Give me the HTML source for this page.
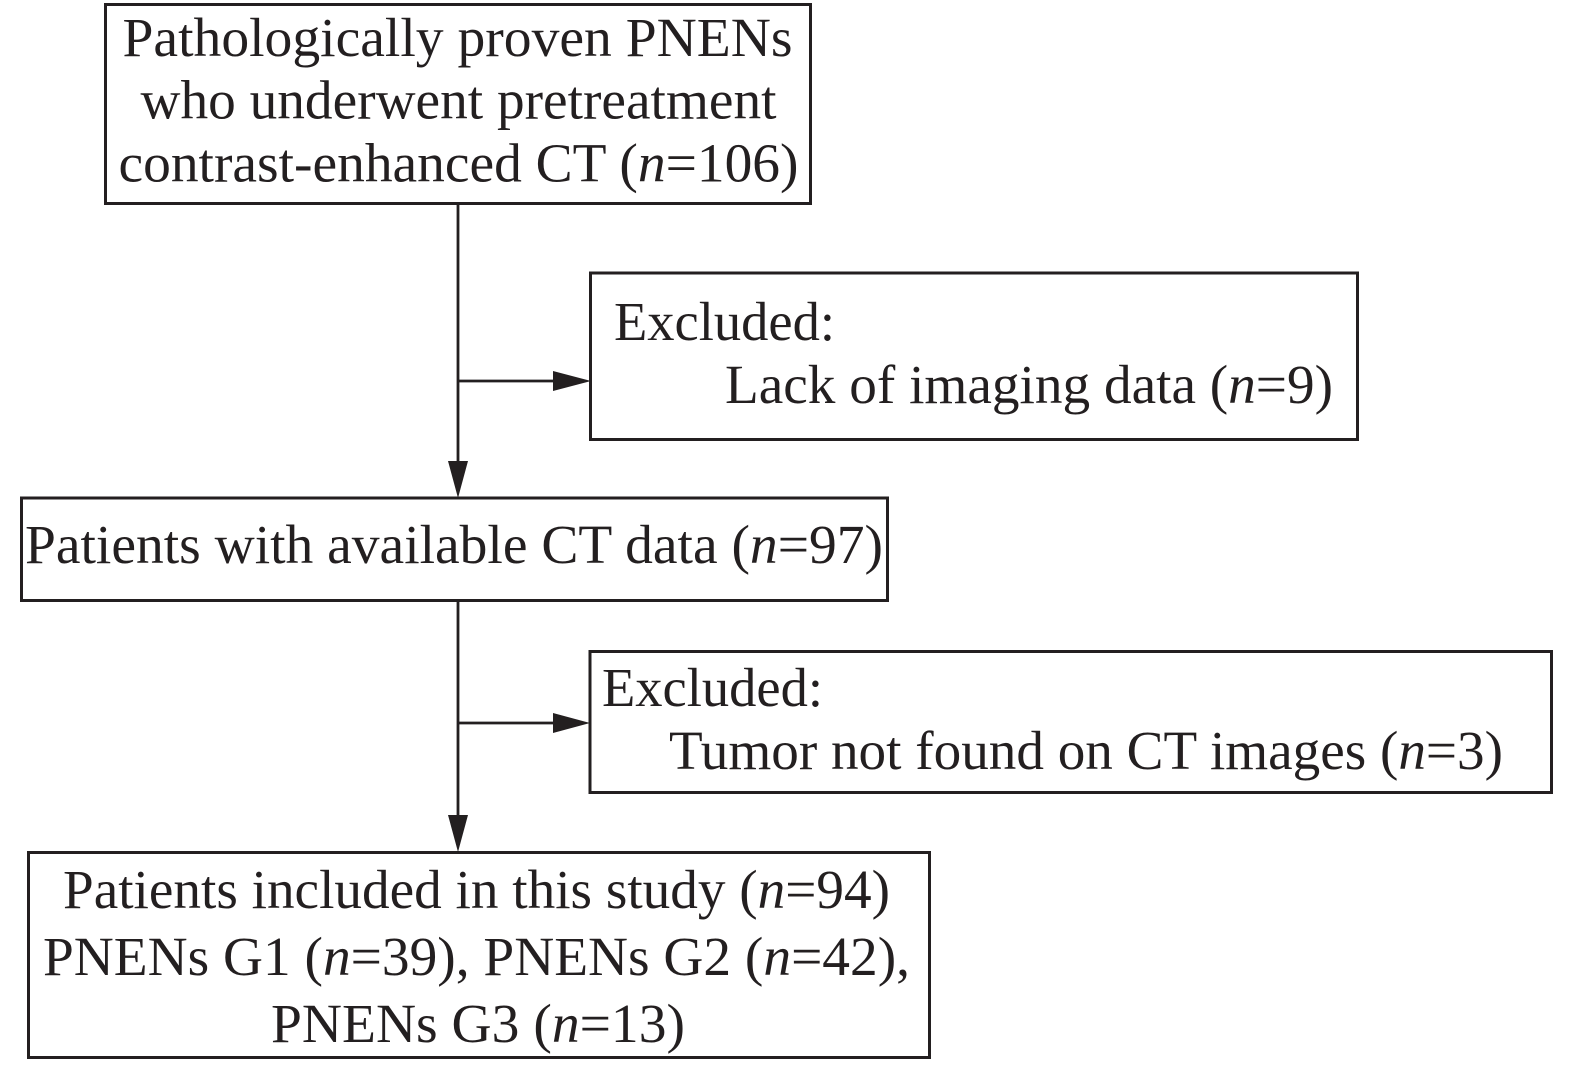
<!DOCTYPE html>
<html>
<head>
<meta charset="utf-8">
<style>
  html, body { margin: 0; padding: 0; background: #ffffff; }
  body { width: 1575px; height: 1065px; overflow: hidden; }
  svg { display: block; }
  text { font-family: "Liberation Serif", "Times New Roman", serif; font-size: 55px; fill: #231f20; }
  .i { font-style: italic; }
</style>
</head>
<body>
<svg width="1575" height="1065" viewBox="0 0 1575 1065" xmlns="http://www.w3.org/2000/svg">
  <rect x="0" y="0" width="1575" height="1065" fill="#ffffff"/>

  <!-- Boxes -->
  <g fill="none" stroke="#231f20" stroke-width="3">
    <rect x="105.5" y="4.5" width="705" height="199"/>
    <rect x="590.5" y="273" width="767" height="166.5"/>
    <rect x="21.5" y="498" width="866" height="102.5"/>
    <rect x="590" y="651.5" width="961.5" height="141"/>
    <rect x="28.5" y="852.5" width="901" height="205"/>
  </g>

  <!-- Connectors -->
  <g stroke="#231f20" stroke-width="2.8" fill="none">
    <line x1="458" y1="204" x2="458" y2="463"/>
    <line x1="458" y1="381" x2="556" y2="381"/>
    <line x1="458" y1="601" x2="458" y2="817"/>
    <line x1="458" y1="723" x2="556" y2="723"/>
  </g>
  <g fill="#231f20" stroke="none">
    <polygon points="448,461 468,461 458,498"/>
    <polygon points="553,371 553,391 591,381"/>
    <polygon points="448,815 468,815 458,852"/>
    <polygon points="553,713 553,733 590,723"/>
  </g>

  <!-- Box 1 text -->
  <text x="122.5" y="56" textLength="670" lengthAdjust="spacingAndGlyphs">Pathologically proven PNENs</text>
  <text x="140.5" y="118.5" textLength="636" lengthAdjust="spacingAndGlyphs">who underwent pretreatment</text>
  <text x="118.5" y="181.5" textLength="680" lengthAdjust="spacingAndGlyphs">contrast-enhanced CT (<tspan class="i">n</tspan>=106)</text>

  <!-- Box 2 text -->
  <text x="614" y="340" textLength="221" lengthAdjust="spacingAndGlyphs">Excluded:</text>
  <text x="725" y="403" textLength="608" lengthAdjust="spacingAndGlyphs">Lack of imaging data (<tspan class="i">n</tspan>=9)</text>

  <!-- Box 3 text -->
  <text x="25" y="563" textLength="858" lengthAdjust="spacingAndGlyphs">Patients with available CT data (<tspan class="i">n</tspan>=97)</text>

  <!-- Box 4 text -->
  <text x="602" y="706" textLength="221" lengthAdjust="spacingAndGlyphs">Excluded:</text>
  <text x="669" y="769" textLength="834" lengthAdjust="spacingAndGlyphs">Tumor not found on CT images (<tspan class="i">n</tspan>=3)</text>

  <!-- Box 5 text -->
  <text x="63" y="908" textLength="827" lengthAdjust="spacingAndGlyphs">Patients included in this study (<tspan class="i">n</tspan>=94)</text>
  <text x="43" y="975" textLength="867" lengthAdjust="spacingAndGlyphs">PNENs G1 (<tspan class="i">n</tspan>=39), PNENs G2 (<tspan class="i">n</tspan>=42),</text>
  <text x="271" y="1042" textLength="414" lengthAdjust="spacingAndGlyphs">PNENs G3 (<tspan class="i">n</tspan>=13)</text>
</svg>
</body>
</html>
